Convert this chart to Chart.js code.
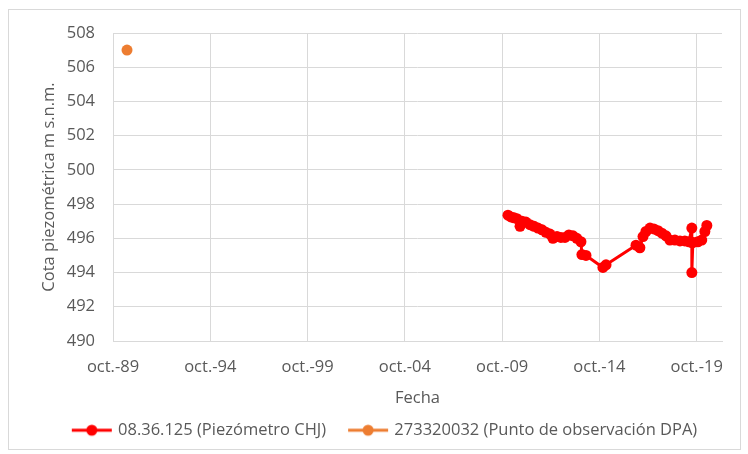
<!DOCTYPE html>
<html>
<head>
<meta charset="utf-8">
<script src="https://cdn.jsdelivr.net/npm/chart.js@4"></script>
<style>
html, body { margin: 0; padding: 0; background: #fff; }
#wrap { position: relative; width: 748px; height: 454px; }
#frame { position: absolute; left: 8px; top: 9px; width: 733px; height: 441px; border: 1px solid #d9d9d9; box-sizing: border-box; }
canvas { position: absolute; left: 0; top: 0; }
</style>
</head>
<body>
<div id="wrap"><div id="frame"></div><canvas id="chart" width="748" height="454"></canvas></div>
<script>
// dates as decimal years
const chjDates  = [2010.05, 2010.20, 2010.36, 2010.51, 2010.67, 2010.77, 2010.97, 2011.18, 2011.39, 2011.59,
                   2011.80, 2012.00, 2012.21, 2012.36, 2012.57, 2012.77, 2012.98, 2013.18, 2013.39, 2013.59,
                   2013.80, 2013.85, 2014.06, 2014.93, 2015.09, 2016.63, 2016.83, 2016.99, 2017.14, 2017.35,
                   2017.55, 2017.76, 2017.96, 2018.17, 2018.37, 2018.63, 2018.89, 2019.14, 2019.35, 2019.50,
                   2019.50, 2019.50, 2019.55, 2019.81, 2020.01, 2020.17, 2020.27];
const chjLevels = [497.35, 497.25, 497.2, 497.15, 496.7, 497.0, 496.95, 496.8, 496.7, 496.6,
                   496.5, 496.35, 496.25, 496.0, 496.1, 496.05, 496.05, 496.2, 496.15, 496.0,
                   495.8, 495.05, 495.0, 494.3, 494.45, 495.6, 495.45, 496.1, 496.4, 496.6,
                   496.55, 496.45, 496.3, 496.15, 495.9, 495.9, 495.85, 495.85, 495.8, 496.6,
                   495.75, 494.0, 495.75, 495.8, 495.9, 496.4, 496.75];
const dpaDates  = [1990.47];
const dpaLevels = [507.0];

const xTicks      = [1989.75, 1994.75, 1999.75, 2004.75, 2009.75, 2014.75, 2019.75];
const xTickLabels = ['oct.-89', 'oct.-94', 'oct.-99', 'oct.-04', 'oct.-09', 'oct.-14', 'oct.-19'];

const seriesNames  = ['08.36.125 (Piezómetro CHJ)', '273320032 (Punto de observación DPA)'];
const seriesColors = ['#ff0000', '#ed7d31'];

const FONT = "'Open Sans', sans-serif";
const FS = 16.5;
const TXT = '#595959';
const GRID = '#d9d9d9';

// line + dot legend symbol, drawn to the right side of a wider box
function legendMark(color) {
    const c = document.createElement('canvas');
    c.width = 62; c.height = 14;
    const g = c.getContext('2d');
    g.strokeStyle = color; g.lineWidth = 3;
    g.beginPath(); g.moveTo(18, 7); g.lineTo(58, 7); g.stroke();
    g.fillStyle = color;
    g.beginPath(); g.arc(38, 7, 5.5, 0, Math.PI * 2); g.fill();
    return c;
}
const marks = seriesColors.map(legendMark);

new Chart(document.getElementById('chart'), {
    type: 'scatter',
    data: {
        datasets: [
            { label: seriesNames[0], data: chjDates.map((d, i) => ({ x: d, y: chjLevels[i] })), showLine: true,
              borderColor: seriesColors[0], backgroundColor: seriesColors[0], borderWidth: 3, borderJoinStyle: 'round',
              pointRadius: 5.5, pointBorderWidth: 0 },
            { label: seriesNames[1], data: dpaDates.map((d, i) => ({ x: d, y: dpaLevels[i] })), showLine: true,
              borderColor: seriesColors[1], backgroundColor: seriesColors[1], borderWidth: 3, pointRadius: 5.5, pointBorderWidth: 0 }
        ]
    },
    options: {
        responsive: false, animation: false, devicePixelRatio: 1,
        layout: { padding: { left: 35, right: 26, top: 33, bottom: 5.5 } },
        plugins: {
            tooltip: { enabled: false },
            legend: {
                position: 'bottom',
                labels: {
                    font: { family: FONT, size: FS }, color: TXT, usePointStyle: true, pointStyleWidth: 50, boxHeight: 14, padding: 10,
                    generateLabels: chart => chart.data.datasets.map((ds, i) => ({
                        text: ds.label, pointStyle: marks[i], fillStyle: ds.borderColor, strokeStyle: ds.borderColor,
                        lineWidth: 0, fontColor: TXT, datasetIndex: i, hidden: false
                    }))
                }
            }
        },
        scales: {
            x: {
                type: 'linear', min: 1989.75, max: 2021.05,
                afterBuildTicks: s => { s.ticks = xTicks.map(v => ({ value: v })); },
                afterFit: s => { s.height = 71; },
                ticks: { callback: (v, i) => xTickLabels[i], font: { family: FONT, size: FS }, color: TXT, padding: 16, maxRotation: 0 },
                grid: { color: GRID, drawTicks: false },
                border: { color: GRID },
                title: { display: true, text: 'Fecha', font: { family: FONT, size: FS }, color: TXT, padding: { top: 4, bottom: 4 } }
            },
            y: {
                min: 490, max: 508,
                afterFit: s => { s.width = 78; },
                ticks: { stepSize: 2, font: { family: FONT, size: FS }, color: TXT, padding: 18 },
                grid: { color: GRID, drawTicks: false },
                border: { display: false },
                title: { display: true, text: 'Cota piezométrica m s.n.m.', font: { family: FONT, size: FS }, color: TXT, padding: 4 }
            }
        }
    }
});
</script>
</body>
</html>
